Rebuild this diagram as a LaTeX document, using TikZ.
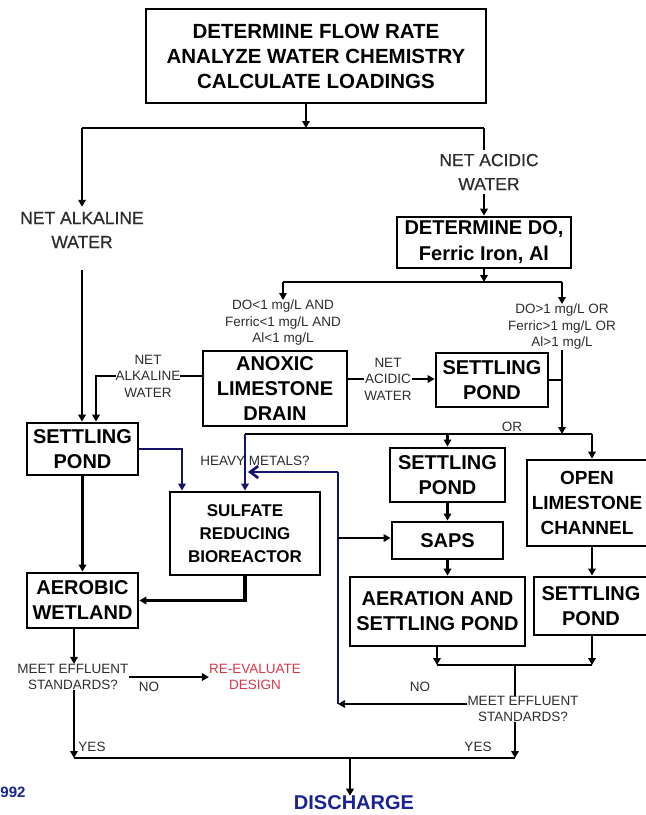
\documentclass[tikz,border=0pt]{standalone}
\usepackage{fontspec}
\setmainfont{Liberation Sans}
\newfontfamily\lblheavy{Liberation Sans}[FakeBold=0.6]
\usetikzlibrary{arrows.meta}
\definecolor{navy}{RGB}{20,20,110}
\definecolor{lblgray}{RGB}{45,45,45}
\definecolor{redtxt}{RGB}{215,55,70}
\definecolor{dischblue}{RGB}{25,35,145}
\begin{document}
\begin{tikzpicture}[x=1pt,y=-1pt,
  box/.style={draw, line width=2.8pt, align=center, inner sep=0pt, font=\bfseries\fontsize{20}{25}\selectfont},
  boxtext/.style={align=center, inner sep=0pt, font=\bfseries\fontsize{19}{25}\selectfont},
  lbl/.style={align=center, inner sep=0pt, text=lblgray, font=\fontsize{13.5}{16.5}\selectfont},
  biglbl/.style={align=center, inner sep=0pt, text=lblgray, font=\lblheavy\fontsize{17.5}{24}\selectfont},
  conn/.style={line width=2.7pt},
  arr/.style={conn, -{Triangle[length=7pt,width=7.5pt]}},
]
\useasboundingbox (0,0) rectangle (646,815);
\clip (0,0) rectangle (646,815);

% boxes
\node[box, minimum width=340pt, minimum height=94pt, font=\bfseries\fontsize{20.5}{25}\selectfont] (nTop) at (316,56) {DETERMINE FLOW RATE\\ANALYZE WATER CHEMISTRY\\CALCULATE LOADINGS};
\node[box, minimum width=174pt, minimum height=51pt, font=\bfseries\fontsize{20}{26}\selectfont] (nDO) at (484,242.5) {DETERMINE DO,\\Ferric Iron, Al};
\node[box, minimum width=144pt, minimum height=75pt] (nALD) at (275,388.5) {ANOXIC\\LIMESTONE\\DRAIN};
\node[box, minimum width=112pt, minimum height=54pt] (nSPA) at (492,380) {SETTLING\\POND};
\node[box, minimum width=111pt, minimum height=52pt] (nSPL) at (82.5,449) {SETTLING\\POND};
\node[box, minimum width=150pt, minimum height=83pt, font=\bfseries\fontsize{17}{23}\selectfont] (nSRB) at (245,533.5) {SULFATE\\REDUCING\\BIOREACTOR};
\node[box, minimum width=111pt, minimum height=55pt] (nAW) at (82.5,600.5) {AEROBIC\\WETLAND};
\node[box, minimum width=115pt, minimum height=54pt] (nSPM) at (447.5,475) {SETTLING\\POND};
\node[box, minimum width=111pt, minimum height=37pt] (nSAPS) at (447.5,540.5) {SAPS};
\node[box, minimum width=175pt, minimum height=69pt] (nAER) at (437.5,611.5) {AERATION AND\\SETTLING POND};
\node[box, minimum width=128pt, minimum height=86pt] (nOLC) at (591,503) {};
\node[boxtext] (nOLCt) at (587,503) {OPEN\\LIMESTONE\\CHANNEL};
\node[box, minimum width=120pt, minimum height=58pt] (nSPR) at (594,606) {};
\node[boxtext, font=\bfseries\fontsize{20}{25}\selectfont] (nSPRt) at (591,606) {SETTLING\\POND};

% labels
\node[biglbl] (nAlk) at (82,230) {NET ALKALINE\\WATER};
\node[biglbl] (nAcid) at (489,172) {NET ACIDIC\\WATER};
\node[lbl] (nLow) at (283,323) {DO<1 mg/L AND\\Ferric<1 mg/L AND\\Al<1 mg/L};
\node[lbl] (nHigh) at (562,327) {DO>1 mg/L OR\\Ferric>1 mg/L OR\\Al>1 mg/L};
\node[lbl] (nNetAlk) at (148,376) {NET\\ALKALINE\\WATER};
\node[lbl] (nNetAcid) at (388,379) {NET\\ACIDIC\\WATER};
\node[lbl] (nHM) at (255,461) {HEAVY METALS?};
\node[lbl] (nOR) at (512,427) {OR};
\node[lbl] (nMeetL) at (73,677) {MEET EFFLUENT\\STANDARDS?};
\node[lbl] (nNoL) at (149,687) {NO};
\node[lbl, text=redtxt] (nRe) at (255,677) {RE-EVALUATE\\DESIGN};
\node[lbl] (nMeetR) at (523,709) {MEET EFFLUENT\\STANDARDS?};
\node[lbl] (nNoR) at (420,687) {NO};
\node[lbl] (nYesL) at (92,747) {YES};
\node[lbl] (nYesR) at (478,747) {YES};
\node[inner sep=0pt, text=dischblue, font=\bfseries\fontsize{20}{24}\selectfont] (nDis) at (354,803) {DISCHARGE};
\node[inner sep=0pt, text=dischblue, font=\bfseries\fontsize{15}{18}\selectfont] (n992) at (13,792) {992};

% coordinates
\coordinate (jTop) at (306,128);
\coordinate (jL) at (82,128);
\coordinate (jR) at (484,128);
\coordinate (jDO) at (484,282);
\coordinate (jDL) at (283,282);
\coordinate (jDR) at (562,282);
\coordinate (jOR) at (562,434);
\coordinate (jORL) at (245,434);
\coordinate (jORR) at (592,434);
\coordinate (cNA) at (96,376);
\coordinate (cBl) at (182,449);
\coordinate (jB1) at (437,665);
\coordinate (jB2) at (592,665);
\coordinate (jBM) at (515,665);
\coordinate (cLoop) at (338,704);
\coordinate (cLoopT) at (338,472);
\coordinate (cLoopS) at (338,538);
\coordinate (jYL) at (74,758);
\coordinate (jYR) at (515,758);
\coordinate (jYM) at (350,758);

% connectors
\draw[arr] (nTop.south -| jTop) -- (jTop);
\draw[conn] (jL) -- (jR);
\draw[arr, shorten >=5pt] (jL) -- (nAlk.north -| jL);
\draw[conn, shorten >=4pt] (jR) -- (nAcid.north -| jR);
\draw[arr, shorten <=4pt] (nAcid.south -| jR) -- (nDO.north -| jR);
\draw[arr] (nDO.south -| jDO) -- (jDO);
\draw[conn] (jDL) -- (jDR);
\draw[arr] (jDL) -- (nLow.north -| jDL);
\draw[arr] (jDR) -- (nHigh.north -| jDR);
\draw[arr] (nHigh.south -| jOR) -- (jOR);
\draw[conn] (nSPA.east) -- (nSPA.east -| jOR);
\draw[conn] (jORL) -- (jORR);
\draw[arr] (nSPM.north |- jOR) -- (nSPM.north);
\draw[arr] (jORR) -- (nOLC.north -| jORR);
\draw[arr, navy] (jORL) -- (nSRB.north -| jORL);
\draw[conn] (nALD.east |- nNetAcid) -- (nNetAcid.west);
\draw[arr] (nNetAcid.east) -- (nSPA.west |- nNetAcid);
\draw[conn] (nALD.west |- nNetAlk) -- (nNetAlk.east);
\draw[arr] (nNetAlk.west) -- (cNA) -- (nSPL.north -| cNA);
\draw[arr, shorten <=22pt] (nAlk.south) -- (nSPL.north -| nAlk.south);
\draw[arr, navy] (nSPL.east) -- (cBl) -- (nSRB.north -| cBl);
\draw[arr] (nSPL.south) -- (nAW.north);
\draw[arr, line width=3.2pt] (nSRB.south) |- (nAW.east);
\draw[arr] (nSPM.south) -- (nSAPS.north);
\draw[arr] (nSAPS.south) -- (nSAPS.south |- nAER.north);
\draw[arr] (nOLC.south -| jORR) -- (nSPR.north -| jORR);
\draw[arr] (nAER.south -| jB1) -- (jB1);
\draw[arr] (nSPR.south -| jB2) -- (jB2);
\draw[conn] (jB1) -- (jB2);
\draw[conn] (jBM) -- (nMeetR.north -| jBM);
\draw[arr] (nMeetR.west |- cLoop) -- (cLoop);
\draw[conn, navy] (cLoop) -- (cLoopT);
\draw[conn, navy, -{Straight Barb[length=8pt,width=12pt]}, shorten >=3pt] (cLoopT) -- (jORL |- cLoopT);
\draw[arr] (cLoopS) -- (nSAPS.west |- cLoopS);
\draw[arr] (nAW.south -| jYL) -- (nMeetL.north -| jYL);
\draw[arr] (nMeetL.east) -- (nRe.west);
\draw[arr] (nMeetL.south -| jYL) -- (jYL);
\draw[conn] (jYL) -- (jYR);
\draw[arr] (nMeetR.south -| jYR) -- (jYR);
\draw[arr] (jYM) -- (nDis.north -| jYM);
\end{tikzpicture}
\end{document}
